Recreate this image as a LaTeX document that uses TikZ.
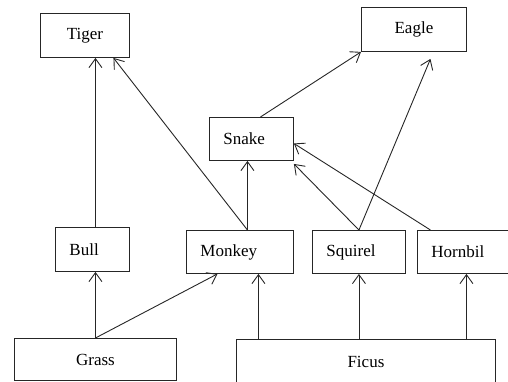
\documentclass[tikz,border=0pt]{standalone}
\usepackage{fontspec}
\setmainfont{Liberation Serif}
\usetikzlibrary{arrows.meta}
\begin{document}
\begin{tikzpicture}[x=1pt,y=-1pt,
  box/.style={draw=black!85, line width=0.9pt, inner ysep=0pt, anchor=north west, font=\fontsize{17}{20}\selectfont},
  cbox/.style={box, align=center, inner xsep=0pt},
  lbox/.style={box, align=left, inner xsep=14pt, text width=#1},
  arr/.style={draw=black!85, line width=0.9pt, -{Straight Barb[length=9pt,width=13pt,line width=0.9pt]}}]
\useasboundingbox (0,0) rectangle (508,381);
\clip (0,0) rectangle (508,381);
\node[cbox, minimum width=89pt, minimum height=44pt] (tiger) at (40,13) {Tiger};
\node[cbox, minimum width=105pt, minimum height=44pt] (eagle) at (361,7) {Eagle};
\node[lbox=56pt, minimum height=43pt] (snake) at (209,117) {Snake};
\node[lbox=46pt, minimum height=44pt] (bull) at (55,227) {Bull};
\node[lbox=79pt, minimum height=43pt] (monkey) at (186,230) {Monkey};
\node[lbox=65pt, minimum height=43pt] (squirel) at (312,230) {Squirel};
\node[lbox=70pt, minimum height=43pt] (hornbil) at (417,230) {Hornbil};
\node[cbox, minimum width=162pt, minimum height=42pt] (grass) at (14,338) {Grass};
\node[cbox, minimum width=259pt, minimum height=44pt] (ficus) at (236,339) {Ficus};

\draw[arr] (grass.north) -- (grass.north |- bull.south);
\draw[arr] (grass.north) -- ([xshift=-22.5pt]monkey.south);
\draw[arr] ([xshift=18.5pt]monkey.south |- ficus.north) -- ([xshift=18.5pt]monkey.south);
\draw[arr] (squirel.south |- ficus.north) -- (squirel.south);
\draw[arr] (hornbil.south |- ficus.north) -- (hornbil.south);
\draw[arr] ([xshift=3pt]bull.north) -- ([xshift=3pt]bull.north |- tiger.south);
\draw[arr] ([xshift=7.5pt]monkey.north) -- ([xshift=7.5pt]monkey.north |- snake.south);
\draw[arr] ([xshift=7.5pt]monkey.north) -- ([xshift=28.5pt]tiger.south);
\draw[arr] ([xshift=9pt]snake.north) -- (eagle.south west);
\draw[arr] (squirel.north) -- ([xshift=16.5pt,yshift=-7pt]eagle.south);
\draw[arr] (squirel.north) -- ([yshift=-3pt]snake.south east);
\draw[arr] ([xshift=-36pt]hornbil.north) -- ([yshift=-4.5pt]snake.east);
\end{tikzpicture}
\end{document}
